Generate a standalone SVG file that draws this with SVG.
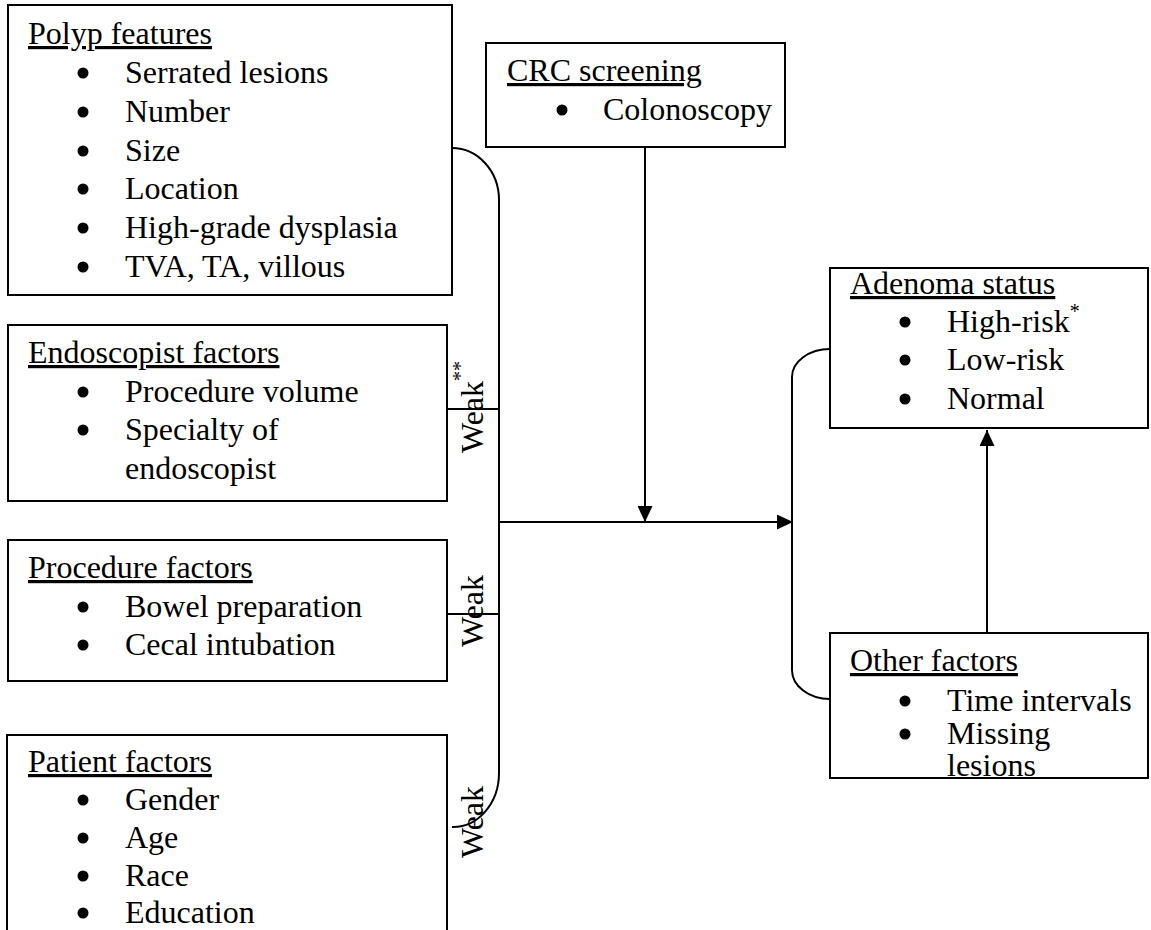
<svg xmlns="http://www.w3.org/2000/svg" width="1151" height="930" viewBox="0 0 1151 930">
<style>
.box{fill:#fff;stroke:#000;stroke-width:2}
.c{fill:none;stroke:#000;stroke-width:2}
.t{font-family:'Liberation Serif','DejaVu Serif',serif;font-size:32px;fill:#000}
.h{text-decoration:underline}
.s{font-size:20px}
.dot{fill:#000}
</style>
<defs>
<marker id="ah" viewBox="0 0 16 15" refX="16" refY="7.5" markerWidth="16" markerHeight="15" markerUnits="userSpaceOnUse" orient="auto">
<path d="M0,0 L16,7.5 L0,15 z" fill="#000"/>
</marker>
</defs>
<rect width="1151" height="930" fill="#fff"/>
<g id="connectors">
<path class="c" d="M452,148 A47,52 0 0 1 499,200 L499,773 A46,54 0 0 1 452,827"/>
<path class="c" d="M447,409 L499,409"/>
<path class="c" d="M447,614 L499,614"/>
<path class="c" d="M499,522 L793,522" marker-end="url(#ah)"/>
<path class="c" d="M645,147 L645,522" marker-end="url(#ah)"/>
<path class="c" d="M830,349 A38,28 0 0 0 792,377 L792,670 A38,29 0 0 0 830,699"/>
<path class="c" d="M987,633 L987,430" marker-end="url(#ah)"/>
<text class="t" transform="translate(483,453) rotate(-90)">Weak<tspan class="s" dy="-16">**</tspan></text>
<text class="t" transform="translate(483,647) rotate(-90)">Weak</text>
<text class="t" transform="translate(483,858) rotate(-90)">Weak</text>
</g>
<g id="polyp">
<rect class="box" x="8" y="5" width="444" height="290"/>
<text class="t h" x="28" y="44">Polyp features</text>
<circle class="dot" cx="83" cy="73" r="5.5"/><text class="t" x="125" y="83">Serrated lesions</text>
<circle class="dot" cx="83" cy="112" r="5.5"/><text class="t" x="125" y="122">Number</text>
<circle class="dot" cx="83" cy="151" r="5.5"/><text class="t" x="125" y="161">Size</text>
<circle class="dot" cx="83" cy="189" r="5.5"/><text class="t" x="125" y="199">Location</text>
<circle class="dot" cx="83" cy="228" r="5.5"/><text class="t" x="125" y="238">High-grade dysplasia</text>
<circle class="dot" cx="83" cy="267" r="5.5"/><text class="t" x="125" y="277">TVA, TA, villous</text>
</g>
<g id="endoscopist">
<rect class="box" x="8" y="325" width="439" height="176"/>
<text class="t h" x="28" y="363">Endoscopist factors</text>
<circle class="dot" cx="83" cy="392" r="5.5"/><text class="t" x="125" y="402">Procedure volume</text>
<circle class="dot" cx="83" cy="430" r="5.5"/><text class="t" x="125" y="440">Specialty of</text>
<text class="t" x="125" y="479">endoscopist</text>
</g>
<g id="procedure">
<rect class="box" x="8" y="540" width="439" height="141"/>
<text class="t h" x="28" y="578">Procedure factors</text>
<circle class="dot" cx="83" cy="607" r="5.5"/><text class="t" x="125" y="617">Bowel preparation</text>
<circle class="dot" cx="83" cy="645" r="5.5"/><text class="t" x="125" y="655">Cecal intubation</text>
</g>
<g id="patient">
<rect class="box" x="7" y="735" width="440" height="210"/>
<text class="t h" x="28" y="772">Patient factors</text>
<circle class="dot" cx="83" cy="800" r="5.5"/><text class="t" x="125" y="810">Gender</text>
<circle class="dot" cx="83" cy="838" r="5.5"/><text class="t" x="125" y="848">Age</text>
<circle class="dot" cx="83" cy="876" r="5.5"/><text class="t" x="125" y="886">Race</text>
<circle class="dot" cx="83" cy="913" r="5.5"/><text class="t" x="125" y="923">Education</text>
</g>
<g id="crc">
<rect class="box" x="486" y="43" width="299" height="104"/>
<text class="t h" x="507" y="81">CRC screening</text>
<circle class="dot" cx="562" cy="110" r="5.5"/><text class="t" x="603" y="120">Colonoscopy</text>
</g>
<g id="adenoma">
<rect class="box" x="830" y="268" width="318" height="160"/>
<text class="t h" x="850" y="294">Adenoma status</text>
<circle class="dot" cx="905" cy="322" r="5.5"/><text class="t" x="947" y="332">High-risk<tspan class="s" dy="-14">*</tspan></text>
<circle class="dot" cx="905" cy="360" r="5.5"/><text class="t" x="947" y="370">Low-risk</text>
<circle class="dot" cx="905" cy="399" r="5.5"/><text class="t" x="947" y="409">Normal</text>
</g>
<g id="other">
<rect class="box" x="830" y="633" width="318" height="145"/>
<text class="t h" x="850" y="671">Other factors</text>
<circle class="dot" cx="905" cy="701" r="5.5"/><text class="t" x="947" y="711">Time intervals</text>
<circle class="dot" cx="905" cy="734" r="5.5"/><text class="t" x="947" y="744">Missing</text>
<text class="t" x="947" y="776">lesions</text>
</g>
</svg>
